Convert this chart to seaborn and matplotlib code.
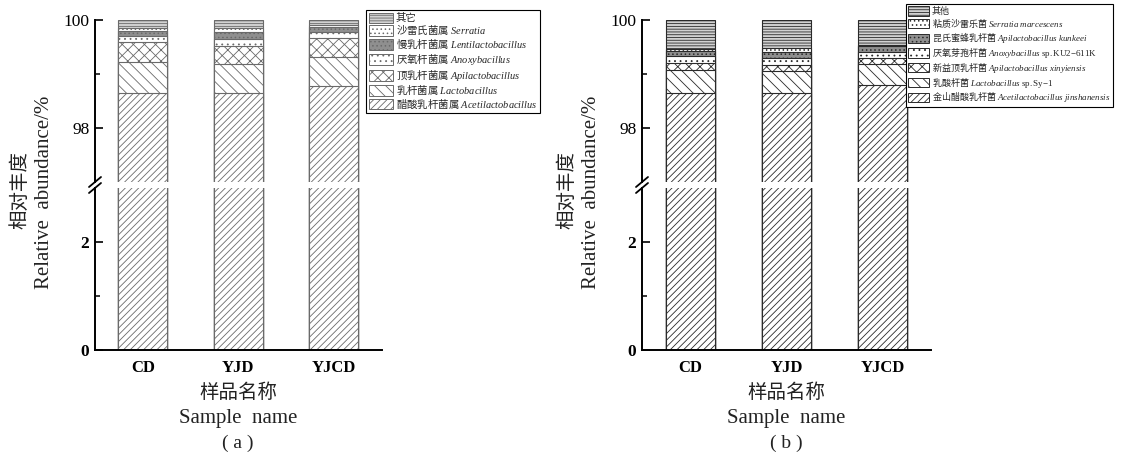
import numpy as np
import matplotlib
matplotlib.use("Agg")
import matplotlib.pyplot as plt
import seaborn as sns
from matplotlib.patches import Patch
from matplotlib.font_manager import FontProperties

# ---------------- data ----------------
samples = ["CD", "YJD", "YJCD"]

# panel (a): genus level, bottom -> top of the stack (%)
a_acetilactobacillus = [98.64, 98.64, 98.78]
a_lactobacillus = [0.59, 0.54, 0.54]
a_apilactobacillus = [0.37, 0.34, 0.35]
a_anoxybacillus = [0.11, 0.13, 0.10]
a_lentilactobacillus = [0.09, 0.12, 0.10]
a_serratia = [0.05, 0.08, 0.04]
a_other = [0.15, 0.15, 0.09]

# panel (b): species level, bottom -> top of the stack (%)
b_acetilactobacillus_jinshanensis = [98.64, 98.64, 98.80]
b_lactobacillus_sy1 = [0.43, 0.42, 0.39]
b_apilactobacillus_xinyiensis = [0.13, 0.11, 0.11]
b_anoxybacillus_ku2 = [0.14, 0.13, 0.11]
b_apilactobacillus_kunkeei = [0.09, 0.11, 0.10]
b_serratia_marcescens = [0.03, 0.07, 0.02]
b_other = [0.54, 0.52, 0.47]

a_labels = [
    "醋酸乳杆菌属 $\\mathit{Acetilactobacillus}$",
    "乳杆菌属 $\\mathit{Lactobacillus}$",
    "顶乳杆菌属 $\\mathit{Apilactobacillus}$",
    "厌氧杆菌属 $\\mathit{Anoxybacillus}$",
    "慢乳杆菌属 $\\mathit{Lentilactobacillus}$",
    "沙雷氏菌属 $\\mathit{Serratia}$",
    "其它",
]
b_labels = [
    "金山醋酸乳杆菌 $\\mathit{Acetilactobacillus\\ jinshanensis}$",
    "乳酸杆菌 $\\mathit{Lactobacillus}\\ \\mathrm{sp.Sy{-}1}$",
    "新益顶乳杆菌 $\\mathit{Apilactobacillus\\ xinyiensis}$",
    "厌氧芽孢杆菌 $\\mathit{Anoxybacillus}\\ \\mathrm{sp.KU2{-}611K}$",
    "昆氏蜜蜂乳杆菌 $\\mathit{Apilactobacillus\\ kunkeei}$",
    "粘质沙雷乐菌 $\\mathit{Serratia\\ marcescens}$",
    "其他",
]

upper_major = [98, 100]
upper_minor = [99]
lower_major = [0, 2]
lower_minor = [1]
upper_lim = (97, 100)
lower_lim = (0, 3)

# ---------------- styles ----------------
hatches = ["/////", "\\\\\\", "xxx", "...", "....", "....", "------"]
faces = ["white", "white", "white", "white", "#8f8f8f", "white", "#d2d2d2"]

sns.set_theme(style="ticks")
plt.rcParams["font.family"] = ["Liberation Serif", "Noto Sans CJK SC"]
plt.rcParams["mathtext.fontset"] = "custom"
plt.rcParams["mathtext.rm"] = "Liberation Serif"
plt.rcParams["mathtext.it"] = "Liberation Serif:italic"
plt.rcParams["mathtext.bf"] = "Liberation Serif:bold"
plt.rcParams["hatch.linewidth"] = 0.6
plt.rcParams["axes.linewidth"] = 1.4

W, H = 1121, 458
fig = plt.figure(figsize=(W / 100, H / 100), dpi=100)


def fx(px):
    return px / W


def fy(py):
    return 1 - py / H


def make_panel(left_px, right_px, series, labels, edgec, legend_xy, legend_size, letter):
    left = fx(left_px)
    width = (right_px - left_px) / W
    ax_up = fig.add_axes([left, fy(182), width, (182 - 20) / H])
    ax_lo = fig.add_axes([left, fy(350), width, (350 - 188) / H])
    cum = np.cumsum(np.array(series, dtype=float), axis=0)
    for ax in (ax_up, ax_lo):
        for i in range(len(series) - 1, -1, -1):
            sns.barplot(x=samples, y=cum[i], ax=ax, color=faces[i], saturation=1,
                        edgecolor=edgec, hatch=hatches[i], linewidth=0.8,
                        width=0.51, errorbar=None)
        ax.set_xlim(-0.5, 2.5)
        ax.set_xlabel("")
        ax.set_ylabel("")
        for s in ("top", "right"):
            ax.spines[s].set_visible(False)
        ax.spines["left"].set_color("black")
        ax.spines["bottom"].set_color("black")
        ax.tick_params(axis="y", which="major", direction="in", length=6, width=1.2,
                       pad=4, labelsize=12.5, colors="black")
        ax.tick_params(axis="y", which="minor", direction="in", length=3.5, width=1.1,
                       colors="black")
    ax_up.set_ylim(*upper_lim)
    ax_up.set_yticks(upper_major)
    ax_up.set_yticks(upper_minor, minor=True)
    ax_up.spines["bottom"].set_visible(False)
    ax_up.tick_params(axis="x", bottom=False, labelbottom=False)
    ax_lo.set_ylim(*lower_lim)
    ax_lo.set_yticks(lower_major)
    ax_lo.set_yticks(lower_minor, minor=True)
    for t in ax_lo.get_yticklabels():
        t.set_fontweight("bold")
    ax_lo.tick_params(axis="x", length=0, pad=7, labelsize=12, colors="black")
    for t in ax_lo.get_xticklabels():
        t.set_fontweight("bold")

    # break marks on the y axis
    wpx = right_px - left_px
    dx, dyu, dyl = 6 / wpx, 5 / 162, 5 / 162
    kw = dict(color="black", lw=1.3, clip_on=False)
    ax_up.plot([-dx, dx], [-dyu, dyu], transform=ax_up.transAxes, **kw)
    ax_lo.plot([-dx, dx], [1 - dyl, 1 + dyl], transform=ax_lo.transAxes, **kw)

    # y label
    fig.text(fx(left_px - 75), fy(190), "相对丰度", rotation=90, ha="center", va="center",
             fontsize=14, family="Noto Sans CJK SC", color="#222222")
    fig.text(fx(left_px - 50), fy(192), "Relative  abundance/%", rotation=90, ha="center",
             va="center", fontsize=15, family="Liberation Serif", color="#222222")
    # x label
    cx = fx((left_px + right_px) / 2)
    fig.text(cx, fy(393), "样品名称", ha="center", va="center", fontsize=14,
             family="Noto Sans CJK SC", color="#222222")
    fig.text(cx, fy(418), "Sample  name", ha="center", va="center", fontsize=15,
             family="Liberation Serif", color="#222222")
    fig.text(cx, fy(443), "( " + letter + " )", ha="center", va="center", fontsize=14,
             family="Liberation Serif", color="#222222")

    # legend (top entry first)
    handles = [Patch(facecolor=faces[i], edgecolor=edgec, hatch=hatches[i], linewidth=0.7)
               for i in range(len(series) - 1, -1, -1)]
    labs = [labels[i] for i in range(len(series) - 1, -1, -1)]
    leg = fig.legend(handles, labs, loc="upper left",
                     bbox_to_anchor=(fx(legend_xy[0]), fy(legend_xy[1])),
                     prop=FontProperties(family="Noto Sans CJK SC", size=legend_size),
                     frameon=True, fancybox=False, edgecolor="black", framealpha=1,
                     handlelength=2.3, handleheight=1.2, labelspacing=0.08,
                     handletextpad=0.3, borderpad=0.25, borderaxespad=0)
    leg.get_frame().set_linewidth(0.8)
    return ax_up, ax_lo


series_a = [a_acetilactobacillus, a_lactobacillus, a_apilactobacillus, a_anoxybacillus,
            a_lentilactobacillus, a_serratia, a_other]
series_b = [b_acetilactobacillus_jinshanensis, b_lactobacillus_sy1,
            b_apilactobacillus_xinyiensis, b_anoxybacillus_ku2,
            b_apilactobacillus_kunkeei, b_serratia_marcescens, b_other]

make_panel(95, 381.5, series_a, a_labels, "#6a6a6a", (366, 10), 7.5, "a")
make_panel(642, 931, series_b, b_labels, "#2a2a2a", (906, 4), 6.5, "b")

fig.savefig("out.png", dpi=100, facecolor="white")
